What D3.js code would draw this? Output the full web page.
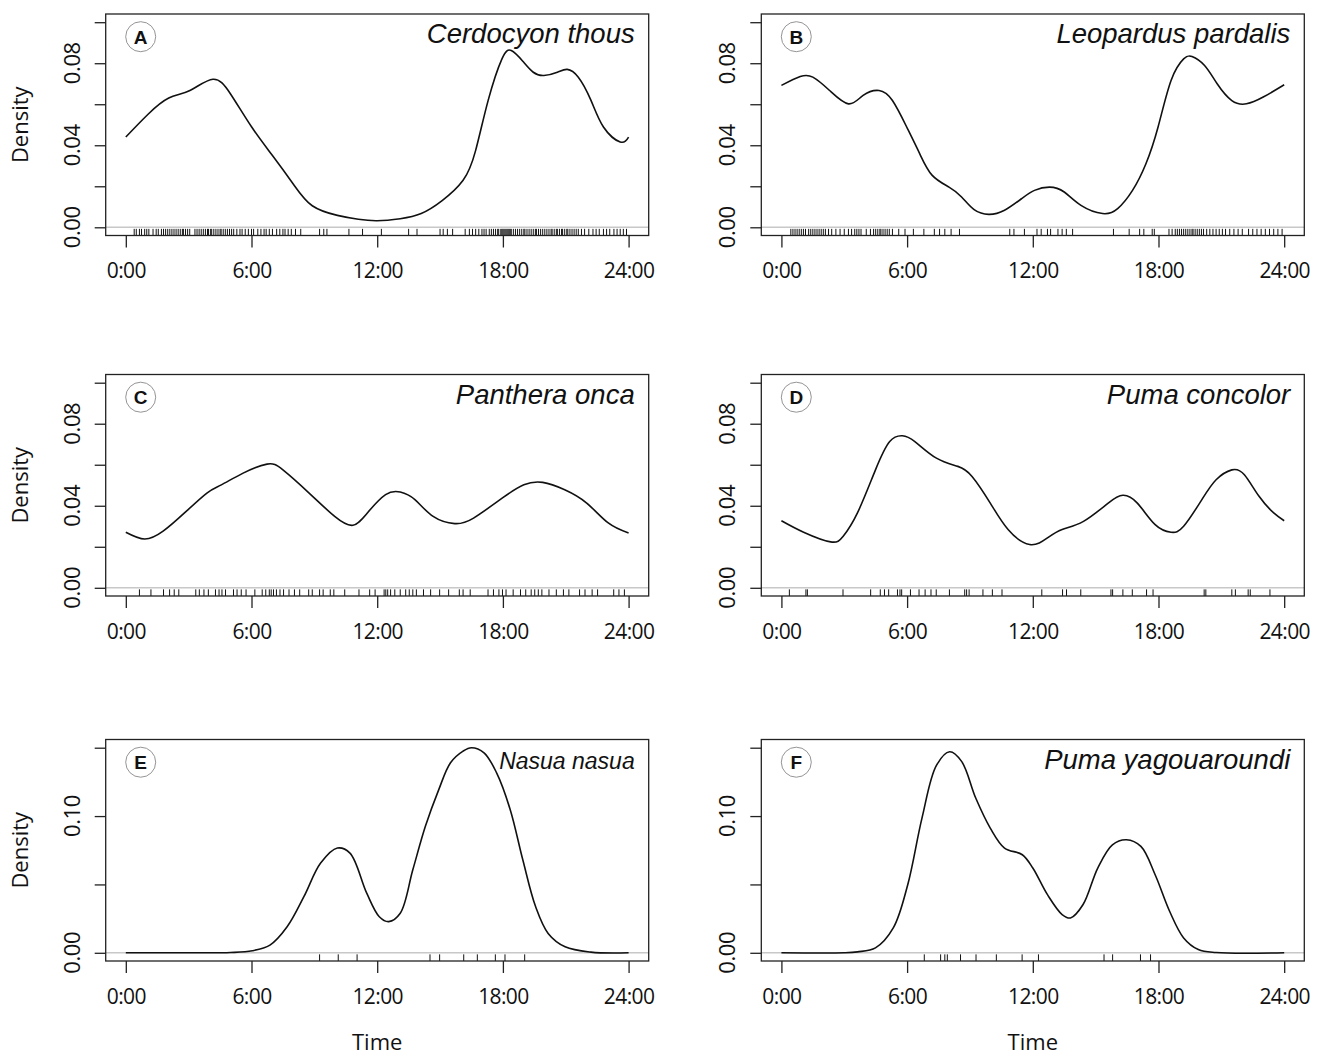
<!DOCTYPE html>
<html>
<head>
<meta charset="utf-8">
<script src="https://cdn.jsdelivr.net/npm/d3@7"></script>
<style>
  body { margin: 0; background: #fff; }
  text { font-family: "Open Sans", "Liberation Sans", sans-serif; fill: #111; }
</style>
</head>
<body>
<script>
// panel letters and species
var panelLetters = ["A", "B", "C", "D", "E", "F"];
var speciesNames = ["Cerdocyon thous", "Leopardus pardalis", "Panthera onca",
                    "Puma concolor", "Nasua nasua", "Puma yagouaroundi"];

// x axis
var xTicks = [0, 6, 12, 18, 24];
var xTickLabels = ["0:00", "6:00", "12:00", "18:00", "24:00"];

// y axis, rows 1-2 and row 3
var yTicksSmall = [0, 0.02, 0.04, 0.06, 0.08, 0.10];
var yLabelsSmall = [0, 0.04, 0.08];
var yTicksLarge = [0, 0.05, 0.10, 0.15];
var yLabelsLarge = [0, 0.10];

// density curves (hour, density)
var cerdocyonHour = [0, 1.05, 2.05, 3.06, 4.16, 5.0, 6.0, 7.0, 8.0, 8.9, 10.1, 11.1, 12, 13.1, 14.1, 15.1, 16.1, 16.7, 17.3, 17.95, 18.4, 18.95, 19.45, 19.96, 20.6, 21.07, 21.6, 22.2, 22.8, 23.6, 24];
var cerdocyonDensity = [0.044, 0.055, 0.063, 0.0667, 0.0722, 0.065, 0.049, 0.035, 0.021, 0.0105, 0.0058, 0.0039, 0.0032, 0.0042, 0.0067, 0.013, 0.0229, 0.0375, 0.062, 0.082, 0.0862, 0.081, 0.0756, 0.074, 0.0756, 0.077, 0.0732, 0.062, 0.0489, 0.0416, 0.044];

var leopardusHour = [0, 0.9, 1.5, 2.3, 3.2, 3.9, 4.66, 5.3, 5.98, 6.6, 7.2, 8.0, 8.6, 9.2, 9.9, 10.65, 11.47, 12.08, 12.8, 13.5, 14.3, 15.33, 16.05, 16.76, 17.4, 17.98, 18.6, 19.2, 19.6, 20.2, 20.8, 21.5, 22.2, 23.0, 24];
var leopardusDensity = [0.0692, 0.0735, 0.0732, 0.0667, 0.0602, 0.0643, 0.0667, 0.0618, 0.0489, 0.0359, 0.0253, 0.0196, 0.0148, 0.0086, 0.0063, 0.0083, 0.014, 0.018, 0.0196, 0.0172, 0.0107, 0.0067, 0.0091, 0.018, 0.031, 0.0489, 0.0716, 0.0821, 0.0833, 0.0789, 0.07, 0.0618, 0.0602, 0.0635, 0.0695];

var pantheraHour = [0, 0.9, 1.78, 2.8, 3.87, 4.56, 5.6, 6.74, 7.5, 8.75, 9.97, 10.84, 11.53, 12.4, 13.1, 13.8, 14.67, 15.7, 16.6, 17.98, 19.0, 19.9, 20.95, 22.0, 23.03, 24];
var pantheraDensity = [0.0271, 0.0238, 0.0276, 0.0365, 0.0462, 0.0502, 0.0559, 0.0603, 0.0575, 0.0462, 0.0348, 0.0305, 0.0365, 0.0454, 0.0467, 0.043, 0.0348, 0.0313, 0.034, 0.0438, 0.0502, 0.0514, 0.0478, 0.0413, 0.0316, 0.0267];

var concolorHour = [0, 1.06, 2.35, 2.95, 3.63, 4.49, 5.17, 5.77, 6.37, 7.4, 8.42, 9.1, 9.97, 10.82, 11.85, 12.7, 13.4, 14.42, 15.6, 16.3, 16.99, 17.84, 18.6, 19.2, 20.07, 20.75, 21.5, 22.1, 22.8, 23.5, 24];
var concolorDensity = [0.0327, 0.0271, 0.0224, 0.0251, 0.0365, 0.0575, 0.0713, 0.0741, 0.0713, 0.0632, 0.0592, 0.0543, 0.0413, 0.0284, 0.0211, 0.0243, 0.0284, 0.0324, 0.0413, 0.0451, 0.0413, 0.0308, 0.0271, 0.03, 0.043, 0.0527, 0.0575, 0.0551, 0.0446, 0.0365, 0.0327];

var nasuaHour = [0, 3, 5, 6.04, 6.88, 7.7, 8.5, 9.3, 10.1, 10.7, 11.5, 12.1, 12.55, 13.1, 13.7, 14.3, 14.93, 15.5, 16.1, 16.5, 17.1, 17.7, 18.35, 18.95, 19.56, 20.16, 20.97, 22.2, 24];
var nasuaDensity = [0, 0, 0.0002, 0.0015, 0.0056, 0.019, 0.041, 0.0656, 0.0766, 0.0729, 0.0436, 0.0264, 0.0228, 0.0289, 0.0607, 0.0925, 0.119, 0.139, 0.1475, 0.15, 0.1463, 0.1316, 0.1047, 0.068, 0.0338, 0.0142, 0.0044, 0.0005, 0];

var yagouaroundiHour = [0, 3, 3.63, 4.49, 5.34, 6.03, 6.71, 7.4, 8.03, 8.6, 9.28, 9.97, 10.65, 11.5, 12.0, 12.7, 13.4, 13.8, 14.4, 15.1, 15.8, 16.47, 17.16, 17.84, 18.53, 19.2, 19.9, 20.75, 24];
var yagouaroundiDensity = [0, 0, 0.0007, 0.0036, 0.0182, 0.0498, 0.0985, 0.137, 0.147, 0.14, 0.113, 0.0912, 0.0766, 0.0717, 0.062, 0.0425, 0.028, 0.0255, 0.0353, 0.062, 0.079, 0.0827, 0.0778, 0.0571, 0.0304, 0.0109, 0.0024, 0.0002, 0];

// rug: detection times (hours)
var cerdocyonRug = [0.4, 0.5, 0.65, 0.75, 0.9, 1.0, 1.1, 1.3, 1.45, 1.55, 1.7, 1.8, 1.9, 2.0, 2.1, 2.2, 2.3, 2.4, 2.5, 2.6, 2.7, 2.75, 2.85, 2.95, 3.05, 3.3, 3.4, 3.5, 3.6, 3.7, 3.8, 3.9, 3.95, 4.05, 4.1, 4.2, 4.3, 4.4, 4.5, 4.55, 4.65, 4.75, 4.85, 4.95, 5.05, 5.15, 5.3, 5.45, 5.55, 5.7, 5.85, 6.0, 6.1, 6.3, 6.45, 6.6, 6.7, 6.85, 7.0, 7.2, 7.35, 7.5, 7.6, 7.75, 7.9, 8.1, 8.35, 9.25, 9.45, 9.6, 10.65, 11.3, 12.2, 13.5, 13.9, 15.0, 15.15, 15.35, 15.6, 16.2, 16.4, 16.55, 16.7, 16.85, 17.0, 17.1, 17.2, 17.35, 17.45, 17.55, 17.65, 17.75, 17.8, 17.9, 17.95, 18.0, 18.05, 18.1, 18.15, 18.2, 18.25, 18.3, 18.35, 18.4, 18.5, 18.6, 18.7, 18.8, 18.9, 19.0, 19.05, 19.15, 19.25, 19.35, 19.45, 19.55, 19.6, 19.7, 19.8, 19.9, 20.0, 20.1, 20.2, 20.3, 20.35, 20.45, 20.55, 20.6, 20.7, 20.8, 20.85, 20.95, 21.05, 21.1, 21.2, 21.3, 21.4, 21.5, 21.6, 21.75, 21.9, 22.1, 22.3, 22.45, 22.6, 22.8, 22.95, 23.1, 23.3, 23.45, 23.6, 23.75, 23.9];
var leopardusRug = [0.45, 0.55, 0.65, 0.75, 0.85, 0.95, 1.05, 1.15, 1.3, 1.4, 1.5, 1.6, 1.7, 1.8, 1.9, 2.0, 2.1, 2.25, 2.4, 2.6, 2.8, 3.0, 3.2, 3.35, 3.5, 3.6, 3.7, 3.8, 4.05, 4.25, 4.4, 4.5, 4.6, 4.7, 4.75, 4.85, 4.95, 5.05, 5.15, 5.3, 5.6, 5.9, 6.3, 6.8, 7.3, 7.55, 7.8, 8.1, 8.5, 10.9, 11.1, 11.6, 12.2, 12.4, 12.7, 12.85, 13.2, 13.4, 13.6, 13.9, 15.85, 16.6, 17.1, 17.3, 17.7, 17.8, 18.5, 18.65, 18.8, 18.9, 19.0, 19.1, 19.2, 19.3, 19.4, 19.5, 19.6, 19.65, 19.75, 19.85, 19.95, 20.05, 20.15, 20.3, 20.45, 20.6, 20.75, 20.9, 21.05, 21.2, 21.4, 21.6, 21.8, 22.0, 22.3, 22.5, 22.7, 22.9, 23.1, 23.3, 23.5, 23.7, 23.9];
var pantheraRug = [0.65, 1.2, 1.8, 2.09, 2.31, 2.53, 3.34, 3.51, 3.73, 3.94, 4.28, 4.45, 4.59, 4.76, 5.14, 5.31, 5.51, 5.74, 6.16, 6.51, 6.68, 6.85, 6.94, 7.05, 7.19, 7.36, 7.53, 7.79, 8.05, 8.3, 8.73, 8.9, 9.25, 9.42, 9.76, 9.93, 10.45, 11.13, 11.64, 11.9, 12.33, 12.41, 12.5, 12.64, 12.84, 13.1, 13.36, 13.53, 13.7, 13.87, 14.21, 14.55, 14.98, 15.41, 15.92, 16.1, 16.44, 17.29, 17.55, 17.81, 17.98, 18.15, 18.49, 18.84, 19.09, 19.35, 19.52, 19.69, 19.86, 20.2, 20.55, 20.89, 21.15, 21.66, 21.92, 22.26, 22.52, 23.29, 23.54, 23.8];
var concolorRug = [0.38, 1.17, 1.24, 2.94, 4.26, 4.72, 4.92, 5.12, 5.54, 5.66, 5.74, 6.16, 6.57, 6.86, 7.14, 7.39, 8.02, 8.75, 8.84, 8.96, 9.62, 10.07, 10.53, 12.43, 13.42, 13.61, 14.29, 15.73, 15.81, 16.3, 16.75, 17.43, 17.74, 20.18, 20.26, 21.5, 21.67, 22.28, 22.38, 23.32];
var nasuaRug = [9.25, 10.14, 11.04, 14.52, 14.98, 16.13, 16.78, 17.64, 18.1, 19.04];
var yagouaroundiRug = [6.82, 7.6, 7.8, 7.92, 8.55, 9.29, 10.26, 11.49, 12.27, 15.4, 15.81, 17.14, 17.62];

var hours = [cerdocyonHour, leopardusHour, pantheraHour, concolorHour, nasuaHour, yagouaroundiHour];
var dens = [cerdocyonDensity, leopardusDensity, pantheraDensity, concolorDensity, nasuaDensity, yagouaroundiDensity];
var rugs = [cerdocyonRug, leopardusRug, pantheraRug, concolorRug, nasuaRug, yagouaroundiRug];

var colLeft = [105.7, 761.3];
var rowTop = [14, 374.5, 739.5];
var boxW = 543, boxH = 221.5;

var svg = d3.select("body").append("svg")
    .attr("width", 1325)
    .attr("height", 1055);

panelLetters.forEach(function (letter, i) {
    var col = i % 2, row = Math.floor(i / 2);
    var left = colLeft[col], top = rowTop[row];
    var big = row === 2;
    var ymax = big ? 0.15 : 0.10;

    var x = d3.scaleLinear().domain([-0.96, 24.96]).range([left, left + boxW]);
    var y = d3.scaleLinear().domain([-0.04 * ymax, 1.04 * ymax]).range([top + boxH, top]);

    var g = svg.append("g");

    // zero line
    g.append("line")
        .attr("x1", left).attr("x2", left + boxW)
        .attr("y1", y(0)).attr("y2", y(0))
        .attr("stroke", "#c8c8c8").attr("stroke-width", 1.5);

    // rug
    g.selectAll(".rug").data(rugs[i]).enter().append("line")
        .attr("x1", function (d) { return x(d); })
        .attr("x2", function (d) { return x(d); })
        .attr("y1", top + boxH)
        .attr("y2", top + boxH - 0.03 * boxH)
        .attr("stroke", "#111").attr("stroke-width", 1);

    // density curve (natural spline for the wavy ones, catmull-rom where it sits on zero)
    var pts = hours[i].map(function (h, k) { return [h, dens[i][k]]; });
    var line = d3.line()
        .x(function (d) { return x(d[0]); })
        .y(function (d) { return y(d[1]); })
        .curve(big ? d3.curveCatmullRom.alpha(0.5) : d3.curveNatural);
    g.append("path").datum(pts)
        .attr("d", line)
        .attr("fill", "none").attr("stroke", "#111").attr("stroke-width", 1.6);

    // box
    g.append("rect")
        .attr("x", left).attr("y", top)
        .attr("width", boxW).attr("height", boxH)
        .attr("fill", "none").attr("stroke", "#222").attr("stroke-width", 1.3);

    // x axis
    var xa = g.append("g")
        .attr("transform", "translate(0," + (top + boxH) + ")")
        .call(d3.axisBottom(x).tickValues(xTicks).tickSize(12).tickPadding(16)
            .tickFormat(function (d, k) { return xTickLabels[k]; }));
    xa.select(".domain").remove();
    xa.selectAll("line").attr("stroke", "#222").attr("stroke-width", 1.3);
    xa.selectAll("text").attr("font-size", 21)
        .style("font-family", "Open Sans")
        .attr("fill", "#111").attr("letter-spacing", -0.6);

    // y axis
    var yTicks = big ? yTicksLarge : yTicksSmall;
    var yLabels = big ? yLabelsLarge : yLabelsSmall;
    var ya = g.append("g")
        .attr("transform", "translate(" + left + ",0)")
        .call(d3.axisLeft(y).tickValues(yTicks).tickSize(11).tickFormat(""));
    ya.select(".domain").remove();
    ya.selectAll("line").attr("stroke", "#222").attr("stroke-width", 1.3);

    g.selectAll(".ylab").data(yLabels).enter().append("text")
        .attr("transform", function (d) {
            return "translate(" + (left - 26) + "," + y(d) + ") rotate(-90)";
        })
        .attr("text-anchor", "middle")
        .attr("font-size", 22)
        .attr("letter-spacing", -0.4)
        .text(function (d) { return d3.format(".2f")(d); });

    if (col === 0) {
        g.append("text")
            .attr("transform", "translate(" + (left - 78) + "," + (top + boxH / 2) + ") rotate(-90)")
            .attr("text-anchor", "middle")
            .attr("font-size", 22)
            .text("Density");
    }
    if (big) {
        g.append("text")
            .attr("x", (x(0) + x(24)) / 2).attr("y", 1050)
            .attr("text-anchor", "middle")
            .attr("font-size", 22)
            .text("Time");
    }

    // species name
    g.append("text")
        .attr("x", left + boxW - 14).attr("y", top + 29)
        .attr("text-anchor", "end")
        .style("font-family", "'Liberation Sans', Arial, sans-serif")
        .style("font-style", "italic")
        .attr("font-size", i === 4 ? 23 : 27.5)
        .text(speciesNames[i]);

    // panel letter
    g.append("circle")
        .attr("cx", left + 35).attr("cy", top + 22.7).attr("r", 15)
        .attr("fill", "none").attr("stroke", "#888").attr("stroke-width", 0.9);
    g.append("text")
        .attr("x", left + 35).attr("y", top + 22.7)
        .attr("dy", "0.36em")
        .attr("text-anchor", "middle")
        .style("font-family", "'Liberation Sans', Arial, sans-serif")
        .style("font-weight", "bold")
        .attr("font-size", 19)
        .text(letter);
});
</script>
</body>
</html>
